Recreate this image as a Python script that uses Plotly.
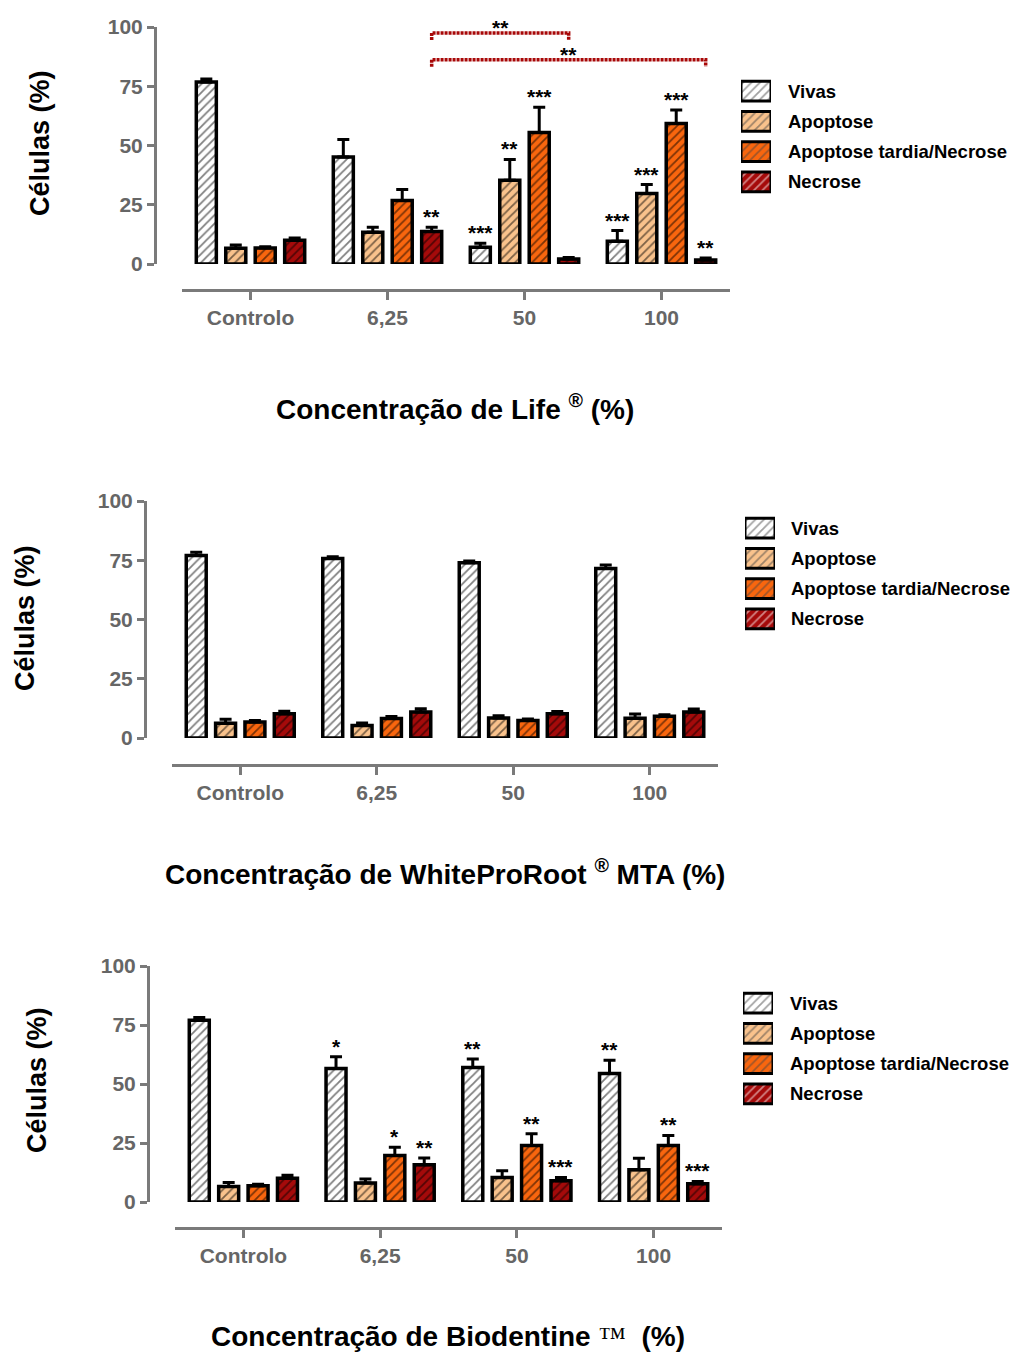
import plotly.graph_objects as go

W, H = 1011, 1354

categories = ["Controlo", "6,25", "50", "100"]
series = ["Vivas", "Apoptose", "Apoptose tardia/Necrose", "Necrose"]
colors = ["#FFFFFF", "#F9C28C", "#F9660E", "#A50A0A"]

# Life®
life_mean = [[76.8, 45.2, 7.1, 9.6],
             [6.6, 13.4, 35.3, 29.7],
             [6.8, 26.8, 55.5, 59.3],
             [10.0, 13.7, 2.1, 1.7]]
life_sem = [[1.3, 7.3, 1.7, 4.5],
            [1.4, 2.1, 8.8, 3.8],
            [0.5, 4.6, 10.6, 5.7],
            [1.0, 1.8, 0.6, 0.8]]
life_sig = [["", "", "***", "***"],
            ["", "", "**", "***"],
            ["", "", "***", "***"],
            ["", "**", "", "**"]]
life_brackets = [("6,25", "50", "**"), ("6,25", "100", "**")]

# WhiteProRoot® MTA
wpr_mean = [[77.0, 75.7, 73.9, 71.5],
            [6.2, 5.3, 8.4, 8.3],
            [6.8, 8.2, 7.4, 9.2],
            [10.2, 11.0, 10.2, 11.0]]
wpr_sem = [[1.4, 0.8, 0.8, 1.5],
           [1.7, 1.0, 1.0, 1.8],
           [0.6, 0.9, 0.6, 0.6],
           [1.1, 1.3, 1.0, 1.2]]
wpr_sig = [["", "", "", ""]] * 4

# Biodentine™
bio_mean = [[77.0, 56.6, 57.0, 54.5],
            [6.6, 8.0, 10.4, 13.7],
            [6.9, 19.7, 23.9, 23.9],
            [10.1, 15.8, 9.0, 7.7]]
bio_sem = [[1.2, 4.9, 3.6, 5.6],
           [1.7, 1.7, 2.8, 4.8],
           [0.6, 3.5, 5.0, 4.3],
           [1.2, 2.8, 1.4, 1.0]]
bio_sig = [["", "*", "**", "**"],
           ["", "", "", ""],
           ["", "*", "**", "**"],
           ["", "**", "***", "***"]]

y_ticks = [0, 25, 50, 75, 100]

FONT = "Liberation Sans, Arial, sans-serif"
GREY = "#666666"
AXC = "#7a7a7a"
BARGAP = 0.14
BARGROUPGAP = 0.32


def px_x(p):
    return p / W


def px_y(p):
    return 1 - p / H


TM = "<span style='font-family:Liberation Serif;font-weight:normal;font-size:28px'>™</span>"

panels = [
    dict(mean=life_mean, sem=life_sem, sig=life_sig, brackets=life_brackets,
         yax_x=155, y_top=27, y_bot=264, x_l=182, x_r=730, x_line=290,
         ytitle=(40, 143), xtitle=(455, 407),
         xtitle_text="Concentração de Life <sup>®</sup> (%)",
         leg_box=(741, 771), leg_rows=(76, 197), leg_text=786),
    dict(mean=wpr_mean, sem=wpr_sem, sig=wpr_sig, brackets=[],
         yax_x=145, y_top=501, y_bot=738, x_l=172, x_r=718, x_line=765,
         ytitle=(25, 618), xtitle=(445, 872),
         xtitle_text="Concentração de WhiteProRoot <sup>®</sup> MTA (%)",
         leg_box=(745, 775), leg_rows=(513, 634), leg_text=789),
    dict(mean=bio_mean, sem=bio_sem, sig=bio_sig, brackets=[],
         yax_x=148, y_top=966, y_bot=1202, x_l=175, x_r=722, x_line=1228,
         ytitle=(37, 1080), xtitle=(448, 1336),
         xtitle_text="Concentração de Biodentine " + TM + "  (%)",
         leg_box=(743, 773), leg_rows=(988, 1109), leg_text=788),
]

fig = go.Figure()
positions = list(range(len(categories)))
nser = len(series)
slot = (1 - BARGAP) / nser


def bar_offset(k):
    return -(1 - BARGAP) / 2 + slot * (k + 0.5)


annotations = []
shapes = []
layout = {}
star_font = dict(family=FONT, size=21, color="black", weight="bold")

for pi, P in enumerate(panels):
    sfx = "" if pi == 0 else str(pi + 1)
    xa, ya = "x" + sfx, "y" + sfx
    for k, name in enumerate(series):
        fig.add_trace(go.Bar(
            x=positions, y=P["mean"][k], name=name, showlegend=False,
            xaxis=xa, yaxis=ya,
            marker=dict(color=colors[k],
                        line=dict(color="black", width=3.5),
                        pattern=dict(shape="/", fgcolor="black", size=6,
                                     solidity=0.3, fillmode="overlay")),
            error_y=dict(type="data", array=P["sem"][k], symmetric=False,
                         arrayminus=[0] * len(categories),
                         color="black", thickness=3, width=6),
            cliponaxis=False,
        ))
        for i, s in enumerate(P["sig"][k]):
            if s:
                annotations.append(dict(
                    x=positions[i] + bar_offset(k), y=P["mean"][k][i] + P["sem"][k][i],
                    xref=xa, yref=ya, text=s, showarrow=False, xanchor="center",
                    yanchor="bottom", yshift=-3, font=star_font))
    # comparison brackets
    levels = [97.5, 86.2]
    for bi, (c1, c2, lab) in enumerate(P["brackets"]):
        xk = nser - 1
        x1 = categories.index(c1) + bar_offset(xk)
        x2 = categories.index(c2) + bar_offset(xk)
        yl = levels[bi]
        shapes.append(dict(type="path", xref=xa, yref=ya,
                           path=f"M {x1},{yl-3} L {x1},{yl} L {x2},{yl} L {x2},{yl-3}",
                           line=dict(color="#A80808", width=3.5, dash="3px,1px")))
        annotations.append(dict(x=(x1 + x2) / 2, y=yl, xref=xa, yref=ya, text=lab,
                                showarrow=False, xanchor="center", yanchor="bottom",
                                yshift=-8, font=star_font))
    layout["xaxis" + sfx] = dict(
        domain=[px_x(P["x_l"]), px_x(P["x_r"])], anchor="free", position=px_y(P["x_line"]),
        range=[-0.5, len(categories) - 0.5], tickvals=positions, ticktext=categories,
        showline=True, linecolor=AXC, linewidth=3, ticks="outside", ticklen=8,
        tickwidth=2.5, tickcolor=AXC, showgrid=False, zeroline=False,
        tickfont=dict(family=FONT, size=21, color=GREY, weight="bold"), fixedrange=True)
    layout["yaxis" + sfx] = dict(
        domain=[px_y(P["y_bot"]), px_y(P["y_top"])], anchor="free", position=px_x(P["yax_x"]),
        range=[0, 100], tickvals=y_ticks, showline=True, linecolor=AXC, linewidth=3,
        ticks="outside", ticklen=7, tickwidth=2.5, tickcolor=AXC, showgrid=False,
        zeroline=False, tickfont=dict(family=FONT, size=21, color=GREY, weight="bold"),
        fixedrange=True)

    # legend swatches (custom, to match the large patterned boxes)
    lsfx = str(pi + 4)
    fig.add_trace(go.Bar(
        x=[1] * nser, y=series, orientation="h", width=0.66, showlegend=False,
        xaxis="x" + lsfx, yaxis="y" + lsfx, hoverinfo="skip",
        marker=dict(color=colors, line=dict(color="black", width=3),
                    pattern=dict(shape="/", fgcolor="black", size=6,
                                 solidity=0.3, fillmode="overlay")),
        cliponaxis=False))
    layout["xaxis" + lsfx] = dict(domain=[px_x(P["leg_box"][0]), px_x(P["leg_box"][1])],
                                  anchor="y" + lsfx, range=[0, 1], visible=False,
                                  fixedrange=True)
    layout["yaxis" + lsfx] = dict(domain=[px_y(P["leg_rows"][1]), px_y(P["leg_rows"][0])],
                                  anchor="x" + lsfx, type="category",
                                  categoryorder="array", categoryarray=series,
                                  range=[nser - 0.5, -0.5], visible=False, fixedrange=True)
    for name in series:
        annotations.append(dict(x=px_x(P["leg_text"]), y=name, xref="paper",
                                yref="y" + lsfx, text=name, showarrow=False,
                                xanchor="left", yanchor="middle",
                                font=dict(family=FONT, size=18.5, color="black",
                                          weight="bold")))

    annotations.append(dict(x=px_x(P["ytitle"][0]), y=px_y(P["ytitle"][1]), xref="paper",
                            yref="paper", text="Células (%)", textangle=-90,
                            showarrow=False, xanchor="center", yanchor="middle",
                            font=dict(family=FONT, size=27, color="black", weight="bold")))
    annotations.append(dict(x=px_x(P["xtitle"][0]), y=px_y(P["xtitle"][1]), xref="paper",
                            yref="paper", text=P["xtitle_text"],
                            showarrow=False, xanchor="center", yanchor="middle",
                            font=dict(family=FONT, size=28, color="black", weight="bold")))

fig.update_layout(
    width=W, height=H, margin=dict(l=0, r=0, t=0, b=0, autoexpand=False),
    paper_bgcolor="white", plot_bgcolor="white", showlegend=False,
    barmode="group", bargap=BARGAP, bargroupgap=BARGROUPGAP,
    font=dict(family=FONT, color="black"),
    annotations=annotations, shapes=shapes, **layout)

fig.write_html("out.html")
